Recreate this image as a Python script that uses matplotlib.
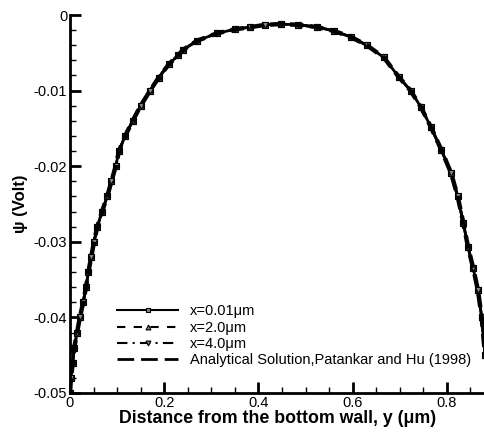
import matplotlib
matplotlib.use('Agg')
import matplotlib.pyplot as plt
from matplotlib.ticker import MultipleLocator, FuncFormatter

plt.rcParams['font.family'] = ['Liberation Sans', 'DejaVu Sans']

# potential across the channel, y in um, psi in volt
y_pos = [0.000, 0.002, 0.006, 0.009, 0.015, 0.021, 0.028, 0.034, 0.039, 0.045,
         0.051, 0.058, 0.068, 0.079, 0.088, 0.097, 0.104, 0.117, 0.133, 0.150,
         0.170, 0.188, 0.210, 0.230, 0.240, 0.270, 0.313, 0.350, 0.383, 0.415,
         0.447, 0.485, 0.525, 0.560, 0.596, 0.630, 0.666, 0.698, 0.723, 0.745,
         0.766, 0.788, 0.809, 0.823, 0.835, 0.845, 0.856, 0.866, 0.874, 0.881]
psi = [-0.0500, -0.0480, -0.0460, -0.0440, -0.0420, -0.0400, -0.0380, -0.0360, -0.0340, -0.0320,
       -0.0300, -0.0280, -0.0260, -0.0240, -0.0220, -0.0200, -0.0180, -0.0160, -0.0140, -0.0120,
       -0.0100, -0.0083, -0.0065, -0.0053, -0.0046, -0.0034, -0.0024, -0.0019, -0.0016, -0.0013,
       -0.0012, -0.0013, -0.0016, -0.0021, -0.0029, -0.0040, -0.0056, -0.0082, -0.0100, -0.0122,
       -0.0148, -0.0178, -0.0209, -0.0240, -0.0275, -0.0307, -0.0335, -0.0364, -0.0400, -0.0450]

labels = ['x=0.01\u03bcm', 'x=2.0\u03bcm', 'x=4.0\u03bcm',
          'Analytical Solution,Patankar and Hu (1998)']

fig = plt.figure(figsize=(4.85, 4.38), dpi=100)
ax = fig.add_axes([70/485, 1-393/438, 415/485, 378/438])

mk = dict(color='black', lw=2.0, ms=4, mfc='#888888', mec='black', mew=0.8)
ax.plot(y_pos, psi, '-', marker='s', label=labels[0], **mk)
ax.plot(y_pos, psi, '--', marker='^', label=labels[1], dashes=(4, 4), **mk)
ax.plot(y_pos, psi, '-.', marker='v', label=labels[2], dashes=(5, 2.5, 1, 2.5), **mk)
ax.plot(y_pos, psi, color='black', lw=3.2, dashes=(3, 1.5), label=labels[3])

ax.set_xlim(0, 0.881)
ax.set_ylim(-0.05, 0)
ax.xaxis.set_major_locator(MultipleLocator(0.2))
ax.xaxis.set_minor_locator(MultipleLocator(0.05))
ax.yaxis.set_major_locator(MultipleLocator(0.01))
ax.yaxis.set_minor_locator(MultipleLocator(0.002))
fmt = FuncFormatter(lambda v, p: '%g' % round(v, 4) if abs(v) > 1e-9 else '0')
ax.xaxis.set_major_formatter(fmt)
ax.yaxis.set_major_formatter(fmt)

for s in ['top', 'right']:
    ax.spines[s].set_visible(False)
for s in ['left', 'bottom']:
    ax.spines[s].set_linewidth(2)
ax.tick_params(which='major', direction='in', length=8, width=2, labelsize=10.5, pad=2)
ax.tick_params(which='minor', direction='in', length=4, width=1)

ax.set_xlabel('Distance from the bottom wall, y (\u03bcm)', fontsize=12.8, fontweight='bold', labelpad=0)
ax.set_ylabel('\u03c8 (Volt)', fontsize=12, fontweight='bold', labelpad=4)

leg = ax.legend(loc='lower left', bbox_to_anchor=(117/485, 1-367/438),
                bbox_transform=fig.transFigure, frameon=False, fontsize=10.5,
                handlelength=4.2, handletextpad=0.8, labelspacing=0.15,
                borderpad=0, borderaxespad=0)
lines = leg.get_lines()
for h in lines:
    h.set_linewidth(1.5)
    h.set_markersize(3.5)
lines[3].set_linewidth(2)
lines[3].set_dashes((6, 2.5))

fig.savefig('out.png', dpi=100)
